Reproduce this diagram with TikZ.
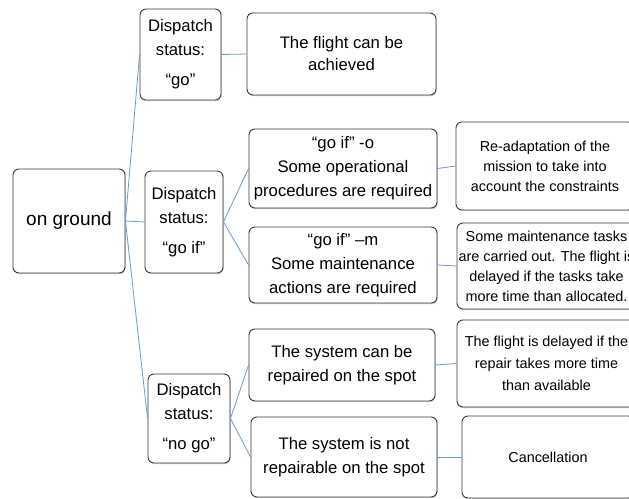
\documentclass[tikz,border=0pt]{standalone}
\usepackage{fontspec}
\setmainfont{Liberation Sans}
\usetikzlibrary{shadows}
\definecolor{boxline}{HTML}{3A3A3A}
\definecolor{conn}{HTML}{6F98CC}
\tikzset{
  box/.style={draw=boxline, line width=0.9pt, rounded corners=6pt, fill=white,
    inner sep=0pt, align=center, text=black,
    drop shadow={shadow xshift=0.8pt, shadow yshift=-1.2pt, opacity=0.35, fill=gray}},
  mainfont/.style={font=\fontsize{16.7}{24}\selectfont},
  rightfont/.style={font=\fontsize{14.4}{20}\selectfont},
  link/.style={draw=conn, line width=0.8pt}
}
\begin{document}
\begin{tikzpicture}[x=1pt,y=-1pt]
\clip (0,0) rectangle (629,498);
\fill[white] (0,0) rectangle (629,498);
% root
\node[box, minimum width=112pt, minimum height=104pt, font=\fontsize{19}{24}\selectfont] (ground) at (69,221) {on ground};
% dispatch
\node[box, mainfont, minimum width=81pt, minimum height=91pt] (go) at (180.5,54.5) {Dispatch\\status:\\[6pt]“go”};
\node[box, mainfont, minimum width=78pt, minimum height=102pt] (goif) at (184,222) {Dispatch\\status:\\[6pt]“go if”};
\node[box, mainfont, minimum width=82pt, minimum height=89pt] (nogo) at (189,418.5) {Dispatch\\status:\\[6pt]“no go”};
% middle column
\node[box, mainfont, minimum width=189pt, minimum height=82pt, font=\fontsize{16.7}{22}\selectfont] (achieved) at (341.5,54) {The flight can be\\achieved};
\node[box, mainfont, minimum width=188pt, minimum height=79pt] (goifo) at (343,168.5) {“go if” -o\\Some operational\\procedures are required};
\node[box, mainfont, minimum width=188pt, minimum height=76pt] (goifm) at (343,265) {“go if” –m\\Some maintenance\\actions are required};
\node[box, mainfont, minimum width=186pt, minimum height=72pt] (repaired) at (342,365) {The system can be\\repaired on the spot};
\node[box, mainfont, minimum width=186pt, minimum height=80pt] (notrep) at (344,457) {The system is not\\repairable on the spot};
% right column
\node[box, rightfont, minimum width=178pt, minimum height=88pt] (readapt) at (545,166) {Re-adaptation of the\\mission to take into\\account the constraints};
\node[box, rightfont, minimum width=179pt, minimum height=86pt] (maint) at (546.5,266) {Some maintenance tasks\\are carried out. The flight is\\delayed if the tasks take\\more time than allocated.};
\node[box, rightfont, minimum width=179pt, minimum height=87pt, font=\fontsize{14.4}{22}\selectfont] (delayed) at (546.5,363.5) {The flight is delayed if the\\repair takes more time\\than available};
\node[box, rightfont, minimum width=172pt, minimum height=82pt] (cancel) at (548,457) {Cancellation};
% connectors
\draw[link] (ground.east) -- (go.west);
\draw[link] (ground.east) -- (goif.west);
\draw[link] (ground.east) -- (nogo.west);
\draw[link] (go.east) -- (achieved.west);
\draw[link] (goif.east) -- (goifo.west);
\draw[link] (goif.east) -- (goifm.west);
\draw[link] (nogo.east) -- (repaired.west);
\draw[link] (nogo.east) -- (notrep.west);
\draw[link] (goifo.east) -- (readapt.west);
\draw[link] (goifm.east) -- (maint.west);
\draw[link] (repaired.east) -- (delayed.west);
\draw[link] (notrep.east) -- (cancel.west);
\end{tikzpicture}
\end{document}
